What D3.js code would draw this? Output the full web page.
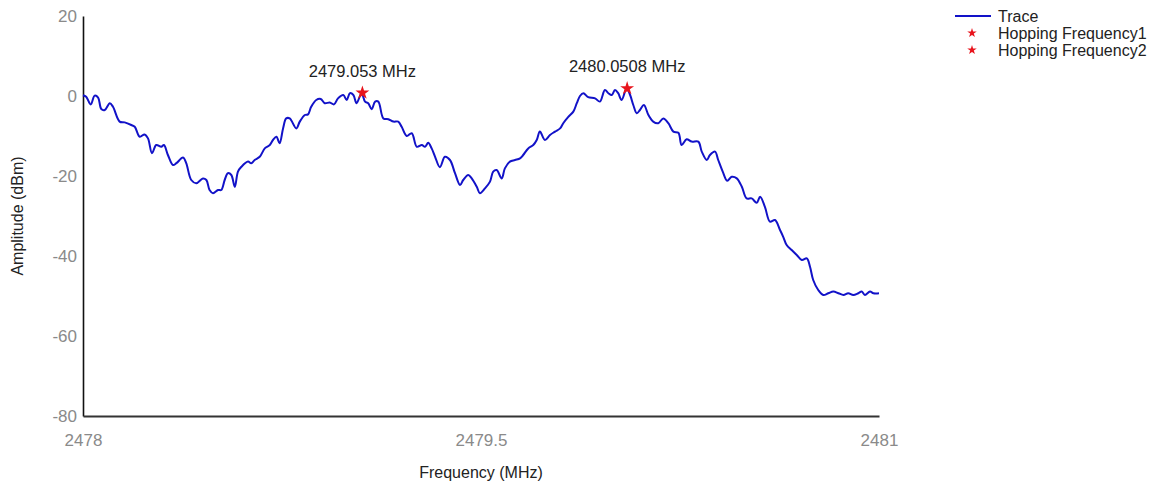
<!DOCTYPE html>
<html>
<head>
<meta charset="utf-8">
<script src="https://cdn.jsdelivr.net/npm/d3@7"></script>
<style>
  html, body { margin: 0; padding: 0; background: #ffffff; }
  svg { display: block; font-family: "Liberation Sans", Arial, sans-serif; }
</style>
</head>
<body>
<svg id="chart" width="1169" height="487"></svg>
<script>
// ---- data ----
const freqOffsets = [0.000,0.012,0.029,0.044,0.057,0.069,0.082,0.101,0.113,0.138,0.157,0.182,0.195,0.214,0.232,0.245,0.260,0.276,0.295,0.305,0.320,0.339,0.352,0.377,0.389,0.408,0.427,0.452,0.465,0.477,0.490,0.509,0.521,0.534,0.546,0.559,0.572,0.584,0.597,0.622,0.634,0.647,0.666,0.685,0.704,0.716,0.729,0.741,0.754,0.766,0.779,0.804,0.817,0.836,0.848,0.860,0.879,0.896,0.911,0.930,0.946,0.961,
  0.981,0.994,1.006,1.019,1.031,1.050,1.063,1.075,1.088,1.101,1.113,1.132,1.151,1.170,1.188,1.201,1.220,1.239,1.258,1.277,1.289,1.301,1.314,1.327,1.345,1.364,1.383,1.402,1.421,1.433,1.452,1.465,1.484,1.496,1.515,1.534,1.546,1.559,1.578,1.590,1.609,1.628,1.647,1.659,1.678,1.697,1.710,1.722,1.741,1.760,1.779,1.798,1.810,1.829,1.848,1.861,1.873,1.886,1.904,1.930,
  1.948,1.967,1.980,1.993,2.005,2.017,2.030,2.049,2.062,2.074,2.087,2.099,2.114,2.131,2.149,2.168,2.187,2.206,2.225,2.244,2.256,2.275,2.294,2.319,2.332,2.351,2.363,2.382,2.394,2.411,2.428,2.445,2.464,2.483,2.501,2.520,2.539,2.552,2.570,2.589,2.608,2.627,2.639,2.652,2.671,2.690,2.709,2.728,2.740,2.752,2.771,2.790,2.809,2.828,2.847,2.866,2.884,2.903,2.922,2.935,2.947,2.966,2.979,3.000];
const traceFreqs = freqOffsets.map(d => 2478 + d);
const traceAmps = [0.2,-0.2,-2.1,0.1,-0.4,-3.25,-3.5,-1.8,-2.7,-6.4,-6.6,-7.25,-7.7,-10.2,-9.6,-10.6,-14.3,-12.25,-12.7,-12.25,-14.75,-17.25,-16.8,-15.4,-16.8,-21,-21.8,-20.6,-21,-23.5,-24.3,-23.5,-23.5,-21,-19.3,-19.75,-22.7,-18.9,-17.7,-16.4,-16.8,-16,-15.2,-13.1,-12.25,-11,-10.2,-11.8,-8.1,-5.6,-5.6,-8.1,-6.4,-4.75,-4.6,-2.7,-1,-0.75,-1.8,-1.6,-2.1,-0.6,
  0.25,-1,0.7,0.25,-1.8,0.7,-1.4,-1.8,-3.3,-1.4,-1.4,-5.6,-5.8,-6.4,-6.4,-7.7,-10,-9.3,-12.7,-12.25,-12.7,-11.7,-13.1,-15.2,-17.8,-15.2,-16,-19.3,-22.25,-21,-19.75,-20.6,-22.7,-24.3,-23.1,-21.4,-18.9,-18.5,-20.6,-18.1,-16.4,-16,-15.6,-14.75,-13.1,-12.25,-11,-8.9,-11,-9.75,-8.9,-8.1,-6.8,-5.2,-3.9,-1.8,0,0.7,-0.3,-0.6,
  -1.4,1.5,0.7,0.25,1.5,0.7,-1,1.9,0.25,-2.25,-4.3,-3.5,-2.25,-4.75,-6.4,-6.8,-5.6,-6.8,-8.9,-9.2,-12.25,-10.8,-11.4,-11.4,-13.9,-16,-14.75,-13.9,-16,-18.9,-21.2,-20.2,-20.6,-22.7,-25.6,-25.6,-26.7,-25.2,-27.7,-31.4,-31,-33.5,-35.2,-37.25,-38.5,-39.75,-41,-40.6,-42.7,-46,-48.5,-49.75,-49.3,-48.9,-49.3,-49.75,-49.3,-49.75,-49.3,-48.9,-49.75,-48.9,-49.3,-49.3];

const hopNames = ["Hopping Frequency1", "Hopping Frequency2"];
const hopFreqs = [2479.053, 2480.0508];
const hopAmps = [0.8, 1.9];
const hopLabels = ["2479.053 MHz", "2480.0508 MHz"];

const xTicks = [2478, 2479.5, 2481];
const xTickLabels = ["2478", "2479.5", "2481"];
const yTicks = [20, 0, -20, -40, -60, -80];
const yTickLabels = ["20", "0", "-20", "-40", "-60", "-80"];

const xTitle = "Frequency (MHz)";
const yTitle = "Amplitude (dBm)";
const traceName = "Trace";

// ---- drawing ----
const svg = d3.select("#chart");
const x = d3.scaleLinear().domain([2478, 2481]).range([83, 879]);
const y = d3.scaleLinear().domain([-80, 20]).range([416, 16]);

const traceColor = "#1212c8";
const markColor = "#e8141c";
const fontFam = "'Liberation Sans', Arial, sans-serif";

// y axis
const yAxis = svg.append("g").attr("transform", `translate(${x(2478)},0)`)
  .call(d3.axisLeft(y).tickValues(yTicks).tickSize(0).tickPadding(6)
    .tickFormat((d, i) => yTickLabels[i]));
yAxis.select(".domain").attr("stroke", "#111").attr("stroke-width", 1.6);
yAxis.selectAll("text").attr("fill", "#8a8a8a").attr("font-size", 17).attr("font-family", fontFam);

// x axis
const xAxis = svg.append("g").attr("transform", `translate(0,${y(-80)})`)
  .call(d3.axisBottom(x).tickValues(xTicks).tickSize(0).tickPadding(18)
    .tickFormat((d, i) => xTickLabels[i]));
xAxis.select(".domain").attr("stroke", "#333").attr("stroke-width", 2);
xAxis.selectAll("text").attr("fill", "#8a8a8a").attr("font-size", 17).attr("font-family", fontFam);

// axis titles
svg.append("text").attr("x", 481).attr("y", 478).attr("text-anchor", "middle")
  .attr("font-size", 16).attr("fill", "#222").text(xTitle);
svg.append("text").attr("transform", `translate(23,${y(-30)}) rotate(-90)`)
  .attr("text-anchor", "middle").attr("font-size", 16).attr("fill", "#222").text(yTitle);

// trace
const pts = d3.zip(traceFreqs, traceAmps);
const line = d3.line().x(d => x(d[0])).y(d => y(d[1])).curve(d3.curveCatmullRom.alpha(0.5));
svg.append("path").datum(pts).attr("d", line).attr("fill", "none")
  .attr("stroke", traceColor).attr("stroke-width", 2).attr("stroke-linejoin", "round");

// hopping markers
const hops = d3.zip(hopFreqs, hopAmps, hopLabels);
const star = d3.symbol().type(d3.symbolStar).size(60);
svg.selectAll(".hop").data(hops).join("path").attr("class", "hop")
  .attr("d", star).attr("fill", markColor)
  .attr("transform", d => `translate(${x(d[0])},${y(d[1])})`);
svg.selectAll(".hoplbl").data(hops).join("text").attr("class", "hoplbl")
  .attr("x", d => x(d[0])).attr("y", d => y(d[1]) - 16)
  .attr("text-anchor", "middle").attr("font-size", 16.5).attr("fill", "#222")
  .text(d => d[2]);

// legend
const lg = svg.append("g");
lg.append("line").attr("x1", 955).attr("x2", 991).attr("y1", 16).attr("y2", 16)
  .attr("stroke", traceColor).attr("stroke-width", 2.2);
lg.append("text").attr("x", 998).attr("y", 22).attr("font-size", 16).attr("fill", "#222").text(traceName);
const small = d3.symbol().type(d3.symbolStar).size(28);
hopNames.forEach((n, i) => {
  const yy = 33 + i * 17;
  lg.append("path").attr("d", small).attr("fill", markColor).attr("transform", `translate(972,${yy})`);
  lg.append("text").attr("x", 998).attr("y", yy + 6).attr("font-size", 16).attr("fill", "#222").text(n);
});
</script>
</body>
</html>
